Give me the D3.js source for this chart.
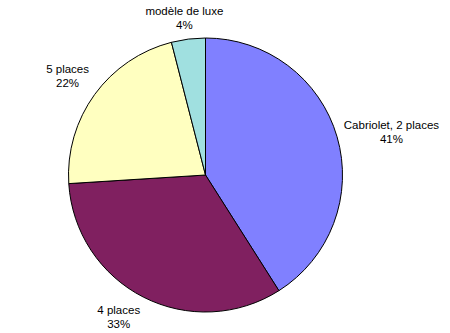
<!DOCTYPE html>
<html><head><meta charset="utf-8">
<script src="https://cdn.jsdelivr.net/npm/d3@7"></script>
<style>
html,body{margin:0;padding:0;background:#fff;}
text{font-family:"Liberation Sans",Arial,sans-serif;font-size:11.5px;fill:#000;}
</style></head>
<body>
<svg id="chart" width="450" height="333"></svg>
<script>
const categories = ["Cabriolet, 2 places", "4 places", "5 places", "modèle de luxe"];
const values = [41, 33, 22, 4];
const percentLabels = ["41%", "33%", "22%", "4%"];
const colors = ["#8080ff", "#802060", "#ffffc0", "#a0e0e0"];

const svg = d3.select("#chart");
const cx = 205.5, cy = 175, r = 137;
const g = svg.append("g").attr("transform", `translate(${cx},${cy})`);

const data = categories.map((c, i) => ({cat: c, value: values[i], pct: percentLabels[i], color: colors[i]}));
const pie = d3.pie().value(d => d.value).sort(null);
const arcs = pie(data);
const arc = d3.arc().innerRadius(0).outerRadius(r);

g.selectAll("path").data(arcs).join("path")
  .attr("d", arc)
  .attr("fill", d => d.data.color)
  .attr("stroke", "#000")
  .attr("stroke-width", 1)
  .attr("stroke-linejoin", "round");

const lineH = 14, gap = 7;
const clamp = v => Math.max(-1, Math.min(1, v));
arcs.forEach(a => {
  const mid = (a.startAngle + a.endAngle) / 2;
  const s = Math.sin(mid), c = Math.cos(mid);
  const R = r + gap;
  const px = R * s, py = -R * c;
  const t = g.append("text").attr("text-anchor", "middle");
  const t1 = t.append("tspan").text(a.data.cat);
  const t2 = t.append("tspan").text(a.data.pct);
  const w = Math.max(t1.node().getComputedTextLength(), t2.node().getComputedTextLength());
  const h = lineH * 2;
  const fx = clamp(s * Math.abs(s) * 5);
  const fy = clamp(-c * Math.abs(c) * 3);
  const bx = px + fx * w / 2;
  const by = py + fy * h / 2;
  const top = by - h / 2;
  t1.attr("x", bx).attr("y", top + lineH / 2 + 4);
  t2.attr("x", bx).attr("y", top + lineH * 1.5 + 4);
});
</script>
</body></html>
